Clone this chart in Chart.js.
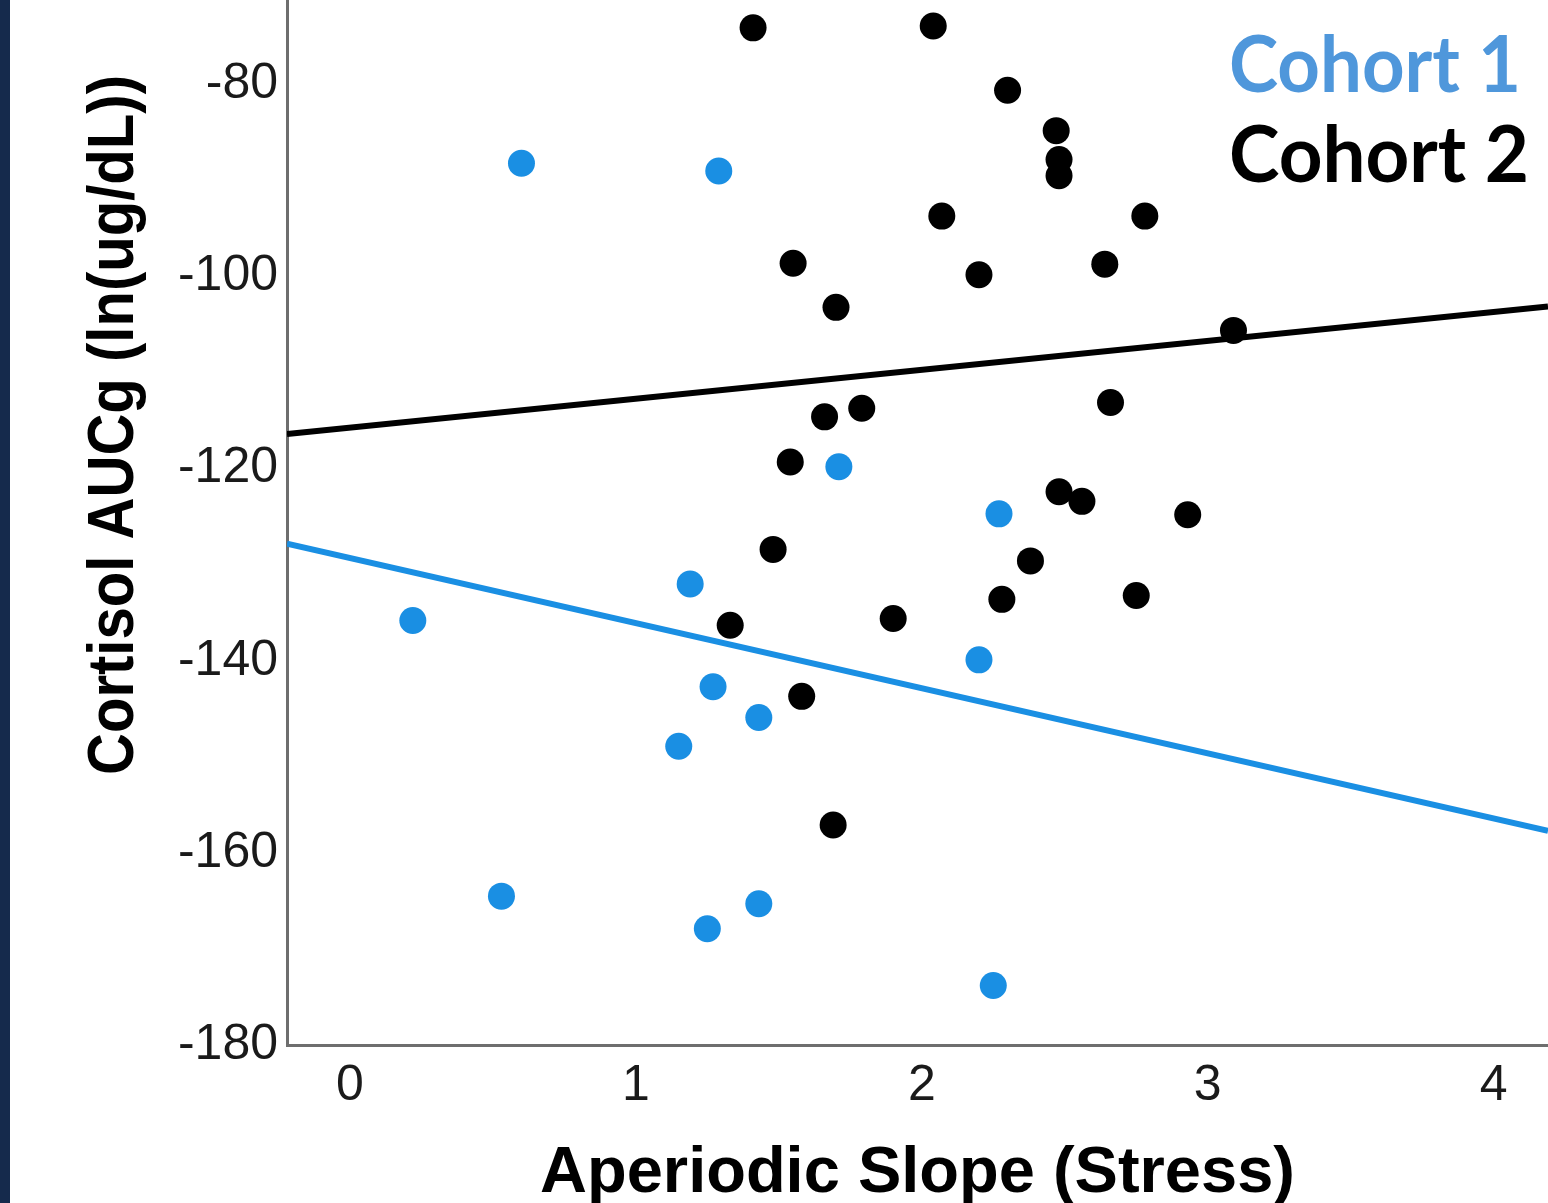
<!DOCTYPE html>
<html>
<head>
<meta charset="utf-8">
<script src="https://cdn.jsdelivr.net/npm/chart.js@4.4.1/dist/chart.umd.min.js"></script>
<style>
  html, body { margin: 0; padding: 0; background: #fff; }
  #wrap { position: relative; width: 1548px; height: 1203px; overflow: hidden; }
  #strip { position: absolute; left: 0; top: 0; width: 10px; height: 1203px; background: #152a4c; }
</style>
</head>
<body>
<div id="wrap">
  <canvas id="myChart" width="1548" height="1203"></canvas>
  <div id="strip"></div>
</div>
<script>
// Cohort 1 (blue)
const cohort1X = [0.60, 1.29, 1.71, 2.27, 1.19, 0.22, 2.20, 1.27, 1.43, 1.15, 0.53, 1.43, 1.25, 2.25];
const cohort1Y = [-88.2, -89.0, -119.8, -124.7, -132.0, -135.8, -139.9, -142.7, -145.9, -148.9, -164.5, -165.3, -167.9, -173.8];

// Cohort 2 (black)
const cohort2X = [1.41, 2.04, 2.30, 2.47, 2.48, 2.48, 2.07, 2.78, 1.55, 2.20, 2.64, 1.70, 3.09, 1.66,
                  1.79, 2.66, 1.54, 2.48, 2.56, 2.93, 1.48, 2.38, 2.75, 2.28, 1.33, 1.90, 1.58, 1.69];
const cohort2Y = [-74.1, -73.9, -80.6, -84.8, -87.8, -89.5, -93.7, -93.7, -98.6, -99.8, -98.7, -103.2, -105.6, -114.6,
                  -113.7, -113.1, -119.3, -122.4, -123.4, -124.8, -128.4, -129.6, -133.2, -133.6, -136.3, -135.6, -143.7, -157.1];

// fit lines (end points)
const fitX = [-0.22, 4.19];
const fit1Y = [-127.8, -157.7];
const fit2Y = [-116.4, -103.1];

const xTicks = [0, 1, 2, 3, 4];
const yTicks = [-180, -160, -140, -120, -100, -80];

const blue = '#1a8fe3';
const pts = (xs, ys) => xs.map((x, i) => ({ x: x, y: ys[i] }));

const textPlugin = {
  id: 'textPlugin',
  afterDraw(chart) {
    const ctx = chart.ctx;
    // y axis title
    ctx.save();
    ctx.translate(133, 425);
    ctx.rotate(-Math.PI / 2);
    ctx.font = 'bold 64px "Liberation Sans", Arial, sans-serif';
    ctx.fillStyle = '#000';
    ctx.textAlign = 'center';
    ctx.textBaseline = 'alphabetic';
    const t = 'Cortisol AUCg (ln(ug/dL))';
    const w = ctx.measureText(t).width;
    ctx.scale(700 / w, 1);
    ctx.fillText(t, 0, 0);
    ctx.restore();

    // legend text
    const legend = [['Cohort 1', '#4f97db', 92, 292], ['Cohort 2', '#000', 182, 300]];
    legend.forEach(([txt, col, base, width]) => {
      ctx.save();
      ctx.font = 'bold 79px Lato, "Noto Sans", sans-serif';
      ctx.fillStyle = col;
      ctx.textAlign = 'left';
      ctx.textBaseline = 'alphabetic';
      const mw = ctx.measureText(txt).width;
      ctx.translate(1229, base);
      ctx.scale(width / mw, 1);
      ctx.fillText(txt, 0, 0);
      ctx.restore();
    });
  }
};

const ctx = document.getElementById('myChart').getContext('2d');
const myChart = new Chart(ctx, {
  type: 'scatter',
  data: {
    datasets: [
      {
        label: 'Fit Cohort 2',
        type: 'line',
        data: pts(fitX, fit2Y),
        borderColor: '#000',
        borderWidth: 6,
        pointRadius: 0,
        fill: false
      },
      {
        label: 'Fit Cohort 1',
        type: 'line',
        data: pts(fitX, fit1Y),
        borderColor: blue,
        borderWidth: 6,
        pointRadius: 0,
        fill: false
      },
      {
        label: 'Cohort 2',
        data: pts(cohort2X, cohort2Y),
        backgroundColor: '#000',
        borderWidth: 0,
        pointRadius: 13.5
      },
      {
        label: 'Cohort 1',
        data: pts(cohort1X, cohort1Y),
        backgroundColor: blue,
        borderWidth: 0,
        pointRadius: 13.5
      }
    ]
  },
  options: {
    responsive: false,
    animation: false,
    layout: { padding: 0, autoPadding: false },
    plugins: {
      legend: { display: false },
      tooltip: { enabled: false }
    },
    scales: {
      x: {
        type: 'linear',
        min: -0.22,
        max: 4.19,
        afterBuildTicks: s => { s.ticks = xTicks.map(v => ({ value: v })); },
        afterFit: s => { s.height = 158; s.paddingLeft = 0; s.paddingRight = 0; },
        ticks: {
          font: { family: '"Liberation Sans", Arial, sans-serif', size: 50, lineHeight: 1 },
          color: '#1a1a1a',
          padding: 16,
          maxRotation: 0
        },
        grid: { display: false, drawTicks: false },
        border: { display: true, color: '#6e6e6e', width: 3 },
        title: {
          display: true,
          text: 'Aperiodic Slope (Stress)',
          color: '#000',
          font: { family: '"Liberation Sans", Arial, sans-serif', size: 65, weight: 'bold', lineHeight: 1 },
          padding: { top: 0, bottom: -4 }
        }
      },
      y: {
        type: 'linear',
        min: -180,
        max: -71.2,
        afterBuildTicks: s => { s.ticks = yTicks.map(v => ({ value: v })); },
        afterFit: s => { s.width = 287; s.paddingTop = 0; s.paddingBottom = 0; },
        ticks: {
          font: { family: '"Liberation Sans", Arial, sans-serif', size: 50, lineHeight: 1 },
          color: '#1a1a1a',
          padding: 9
        },
        grid: { display: false, drawTicks: false },
        border: { display: true, color: '#6e6e6e', width: 3 }
      }
    }
  },
  plugins: [textPlugin]
});
</script>
</body>
</html>
